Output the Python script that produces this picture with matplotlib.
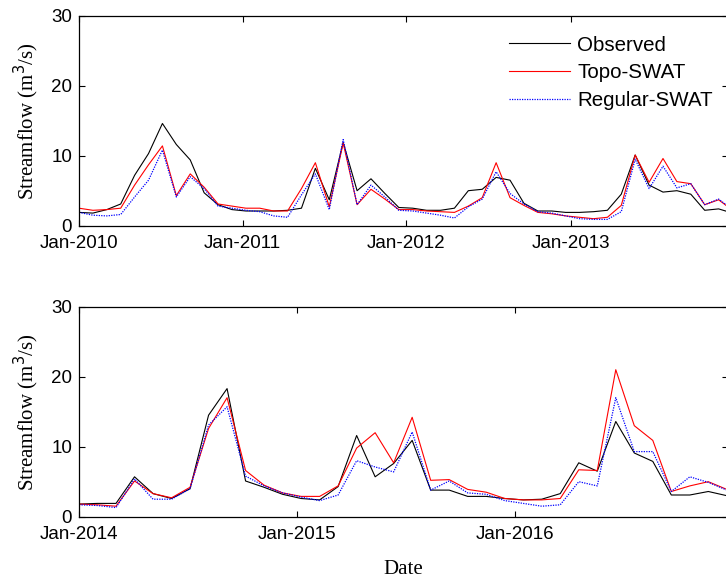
import numpy as np
import matplotlib
matplotlib.use('Agg')
import matplotlib.pyplot as plt
import matplotlib.dates as mdates

# monthly streamflow, m3/s
obs_1 = [1.9, 1.8, 2.3, 3.1, 7.2, 10.3, 14.6, 11.6, 9.4, 4.7, 3.0, 2.3,
         2.1, 2.1, 2.1, 2.2, 2.5, 8.2, 3.7, 11.9, 5.0, 6.7, 4.6, 2.6,
         2.5, 2.2, 2.2, 2.5, 5.0, 5.2, 6.9, 6.5, 3.2, 2.1, 2.1, 1.9,
         1.9, 2.0, 2.2, 4.5, 10.1, 5.8, 4.8, 5.0, 4.5, 2.2, 2.4, 1.8]
topo_1 = [2.5, 2.2, 2.3, 2.5, 5.8, 8.7, 11.4, 4.3, 7.4, 5.5, 3.1, 2.8,
          2.5, 2.5, 2.1, 2.1, 5.3, 9.0, 2.7, 11.8, 3.0, 5.2, 3.8, 2.3,
          2.3, 2.1, 2.0, 1.9, 2.8, 4.0, 9.0, 4.0, 2.9, 1.9, 1.7, 1.4,
          1.2, 1.0, 1.2, 2.9, 10.1, 6.2, 9.6, 6.3, 6.0, 3.0, 3.7, 2.2]
reg_1 = [1.9, 1.5, 1.4, 1.6, 4.1, 6.5, 10.8, 4.1, 7.0, 5.3, 2.8, 2.5,
         2.2, 2.0, 1.4, 1.2, 4.4, 7.4, 2.3, 12.3, 3.0, 5.8, 4.1, 2.2,
         2.1, 1.8, 1.5, 1.1, 2.7, 3.8, 7.7, 4.6, 3.1, 2.0, 1.8, 1.4,
         1.0, 0.9, 0.9, 2.0, 9.5, 5.3, 8.5, 5.4, 6.0, 3.0, 3.8, 2.3]

obs_2 = [1.8, 1.9, 1.9, 5.7, 3.3, 2.6, 4.0, 14.5, 18.3, 5.1, 4.2, 3.2,
         2.6, 2.4, 4.3, 11.6, 5.7, 7.6, 10.9, 3.8, 3.8, 2.9, 2.9, 2.6,
         2.4, 2.5, 3.3, 7.7, 6.5, 13.6, 9.1, 7.9, 3.1, 3.1, 3.6, 3.0]
topo_2 = [1.8, 1.7, 1.5, 5.1, 3.3, 2.7, 4.2, 12.6, 17.0, 6.6, 4.5, 3.4,
          2.9, 2.9, 4.4, 9.8, 12.0, 7.7, 14.2, 5.2, 5.3, 3.9, 3.5, 2.6,
          2.4, 2.4, 2.6, 6.7, 6.6, 21.0, 13.0, 10.9, 3.6, 4.4, 5.0, 3.9]
reg_2 = [1.7, 1.6, 1.3, 5.4, 2.5, 2.5, 4.0, 13.1, 15.7, 5.8, 4.4, 3.4,
         2.8, 2.3, 3.1, 8.0, 7.1, 6.4, 12.1, 3.8, 5.1, 3.4, 3.2, 2.3,
         1.9, 1.5, 1.7, 5.0, 4.4, 17.0, 9.3, 9.3, 3.6, 5.7, 4.9, 3.8]

sans = ['Liberation Sans', 'DejaVu Sans']
serif = ['Liberation Serif', 'DejaVu Serif']


def month_dates(start, n):
    # original puts samples every 31 days from the start date
    return np.datetime64(start) + np.arange(n) * np.timedelta64(31, 'D')


fig = plt.figure(figsize=(7.26, 5.79), dpi=100)
ax1 = fig.add_axes([0.1088, 0.6102, 0.894, 0.3627])
ax2 = fig.add_axes([0.1088, 0.1076, 0.894, 0.3627])

panels = [
    (ax1, '2010-01-01', obs_1, topo_1, reg_1, 1447),
    (ax2, '2014-01-01', obs_2, topo_2, reg_2, 1087),
]

for ax, start, obs, topo, reg, span in panels:
    x = month_dates(start, len(obs))
    ax.plot(x, obs, color='k', lw=0.8, label='Observed')
    ax.plot(x, topo, color='r', lw=0.8, label='Topo-SWAT')
    ax.plot(x, reg, color='b', lw=0.9, ls=(0, (1, 1)), label='Regular-SWAT')

    x0 = np.datetime64(start)
    ax.set_xlim(x0, x0 + np.timedelta64(span, 'D'))
    ax.set_ylim(0, 30)
    ax.set_yticks([0, 10, 20, 30])
    ax.xaxis.set_major_locator(mdates.YearLocator())
    ax.xaxis.set_major_formatter(mdates.DateFormatter('%b-%Y'))
    ax.tick_params(direction='in', length=4, width=0.8, top=True, right=True,
                   labelsize=13.5)
    ax.tick_params(axis='x', pad=7)
    ax.tick_params(axis='y', pad=5)
    for lab in ax.get_xticklabels() + ax.get_yticklabels():
        lab.set_family(sans)
    for sp in ax.spines.values():
        sp.set_linewidth(0.9)
    ax.set_ylabel('Streamflow (m$^3$/s)', family=serif, fontsize=15, labelpad=7)

ax2.set_xlabel('Date', family=serif, fontsize=15, labelpad=12)

leg = ax1.legend(loc='upper right', bbox_to_anchor=(0.977, 0.905), frameon=False,
                 prop={'family': sans, 'size': 14.8}, handlelength=3.0,
                 handletextpad=0.35, labelspacing=0.42, borderaxespad=0, borderpad=0)

plt.savefig('out.png', dpi=100)
